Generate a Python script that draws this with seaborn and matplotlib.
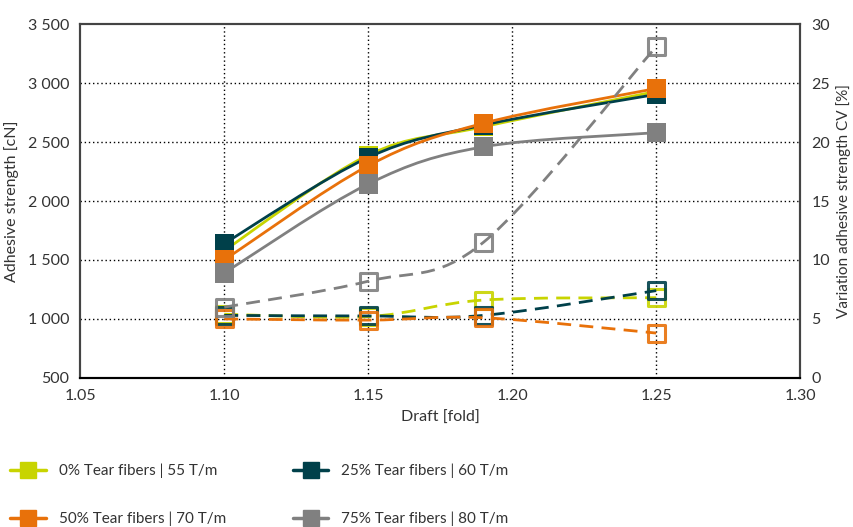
import numpy as np
import seaborn as sns
import matplotlib.pyplot as plt
from matplotlib.path import Path
from matplotlib.patches import PathPatch
from matplotlib.lines import Line2D
from matplotlib.ticker import FuncFormatter

# values
draft = [1.10, 1.15, 1.19, 1.25]
labels = ["0% Tear fibers | 55 T/m", "25% Tear fibers | 60 T/m",
          "50% Tear fibers | 70 T/m", "75% Tear fibers | 80 T/m"]
colours = ["#c8d400", "#00404a", "#e8710a", "#808080"]

strength_0 = [1580, 2390, 2630, 2930]
strength_25 = [1640, 2370, 2645, 2905]
strength_50 = [1500, 2300, 2660, 2955]
strength_75 = [1390, 2145, 2460, 2580]

cv_0 = [5.4, 5.2, 6.6, 6.8]
cv_25 = [5.3, 5.25, 5.3, 7.4]
cv_50 = [5.0, 4.9, 5.1, 3.8]
cv_75 = [6.0, 8.2, 11.5, 28.1]

strength = [strength_0, strength_25, strength_50, strength_75]
cv = [cv_0, cv_25, cv_50, cv_75]
order = [3, 0, 1, 2]  # drawing order, gray at the back


def smooth_path(xs, ys):
    # Catmull-Rom style bezier through the data points (like a smoothed Excel line)
    p = np.column_stack([xs, ys]).astype(float)
    ext = np.vstack([p[0], p, p[-1]])
    verts = [p[0]]
    codes = [Path.MOVETO]
    for i in range(len(p) - 1):
        p0, p1, p2, p3 = ext[i], ext[i + 1], ext[i + 2], ext[i + 3]
        c1 = p1 + (p2 - p0) / 6
        c2 = p2 - (p3 - p1) / 6
        verts += [c1, c2, p2]
        codes += [Path.CURVE4] * 3
    return Path(verts, codes)


sns.set_style("white")
plt.rcParams["font.family"] = ["Lato", "DejaVu Sans"]
plt.rcParams["font.size"] = 11

fig, ax = plt.subplots(figsize=(8.54, 5.27), dpi=100)
fig.subplots_adjust(left=0.094, right=0.937, top=0.954, bottom=0.283)
ax2 = ax.twinx()

for i in order:
    ax.add_patch(PathPatch(smooth_path(draft, strength[i]), fill=False,
                           edgecolor=colours[i], lw=2, zorder=3 + i))
    sns.scatterplot(x=draft, y=strength[i], ax=ax, marker="s", s=190,
                    color=colours[i], edgecolor="none", zorder=4 + i, legend=False)

    ax2.add_patch(PathPatch(smooth_path(draft, cv[i]), fill=False,
                            edgecolor=colours[i], lw=2, linestyle=(0, (5, 3)),
                            zorder=3 + i))
    sns.scatterplot(x=draft, y=cv[i], ax=ax2, marker="s", s=150,
                    facecolor="none", edgecolor=colours[i], linewidth=2.2,
                    alpha=0.9, zorder=4 + i, legend=False)

ax.set_xlim(1.05, 1.30)
ax.set_ylim(500, 3500)
ax2.set_ylim(0, 30)
ax.set_xticks([1.05, 1.10, 1.15, 1.20, 1.25, 1.30])
ax.set_yticks(range(500, 3501, 500))
ax2.set_yticks(range(0, 31, 5))
ax.yaxis.set_major_formatter(FuncFormatter(lambda v, _: f"{int(v):,}".replace(",", " ")))

ax.grid(False)
ax2.grid(False)
for xv in [1.10, 1.15, 1.20, 1.25]:
    ax.axvline(xv, color="black", lw=1, ls=(0, (1, 2)), zorder=1)
for yv in [1000, 1500, 2000, 2500, 3000]:
    ax.axhline(yv, color="black", lw=1, ls=(0, (1, 2)), zorder=1)

for a in (ax, ax2):
    for side in ["left", "right", "top"]:
        a.spines[side].set_color("#444444")
        a.spines[side].set_linewidth(1.5)
    a.spines["bottom"].set_color("black")
    a.spines["bottom"].set_linewidth(1.5)
    a.tick_params(length=0, labelsize=11.5, colors="#333333", pad=8)

ax.set_xlabel("Draft [fold]", fontsize=11.5, color="#333333", labelpad=6)
ax.set_ylabel("Adhesive strength [cN]", fontsize=11.5, color="#333333", labelpad=6)
ax2.set_ylabel("Variation adhesive strength CV [%]", fontsize=11, color="#333333",
               labelpad=4)

handles = [Line2D([0], [0], color=colours[i], lw=2.5, marker="s", markersize=11)
           for i in range(4)]
leg_idx = [0, 2, 1, 3]
fig.legend([handles[i] for i in leg_idx], [labels[i] for i in leg_idx],
           loc="upper left", bbox_to_anchor=(0.005, 0.132), borderaxespad=0,
           ncol=2, frameon=False, fontsize=11, handlelength=2.3,
           columnspacing=4.4, labelspacing=2.2, handletextpad=0.85,
           labelcolor="#333333")

plt.savefig("out.png", dpi=100)
